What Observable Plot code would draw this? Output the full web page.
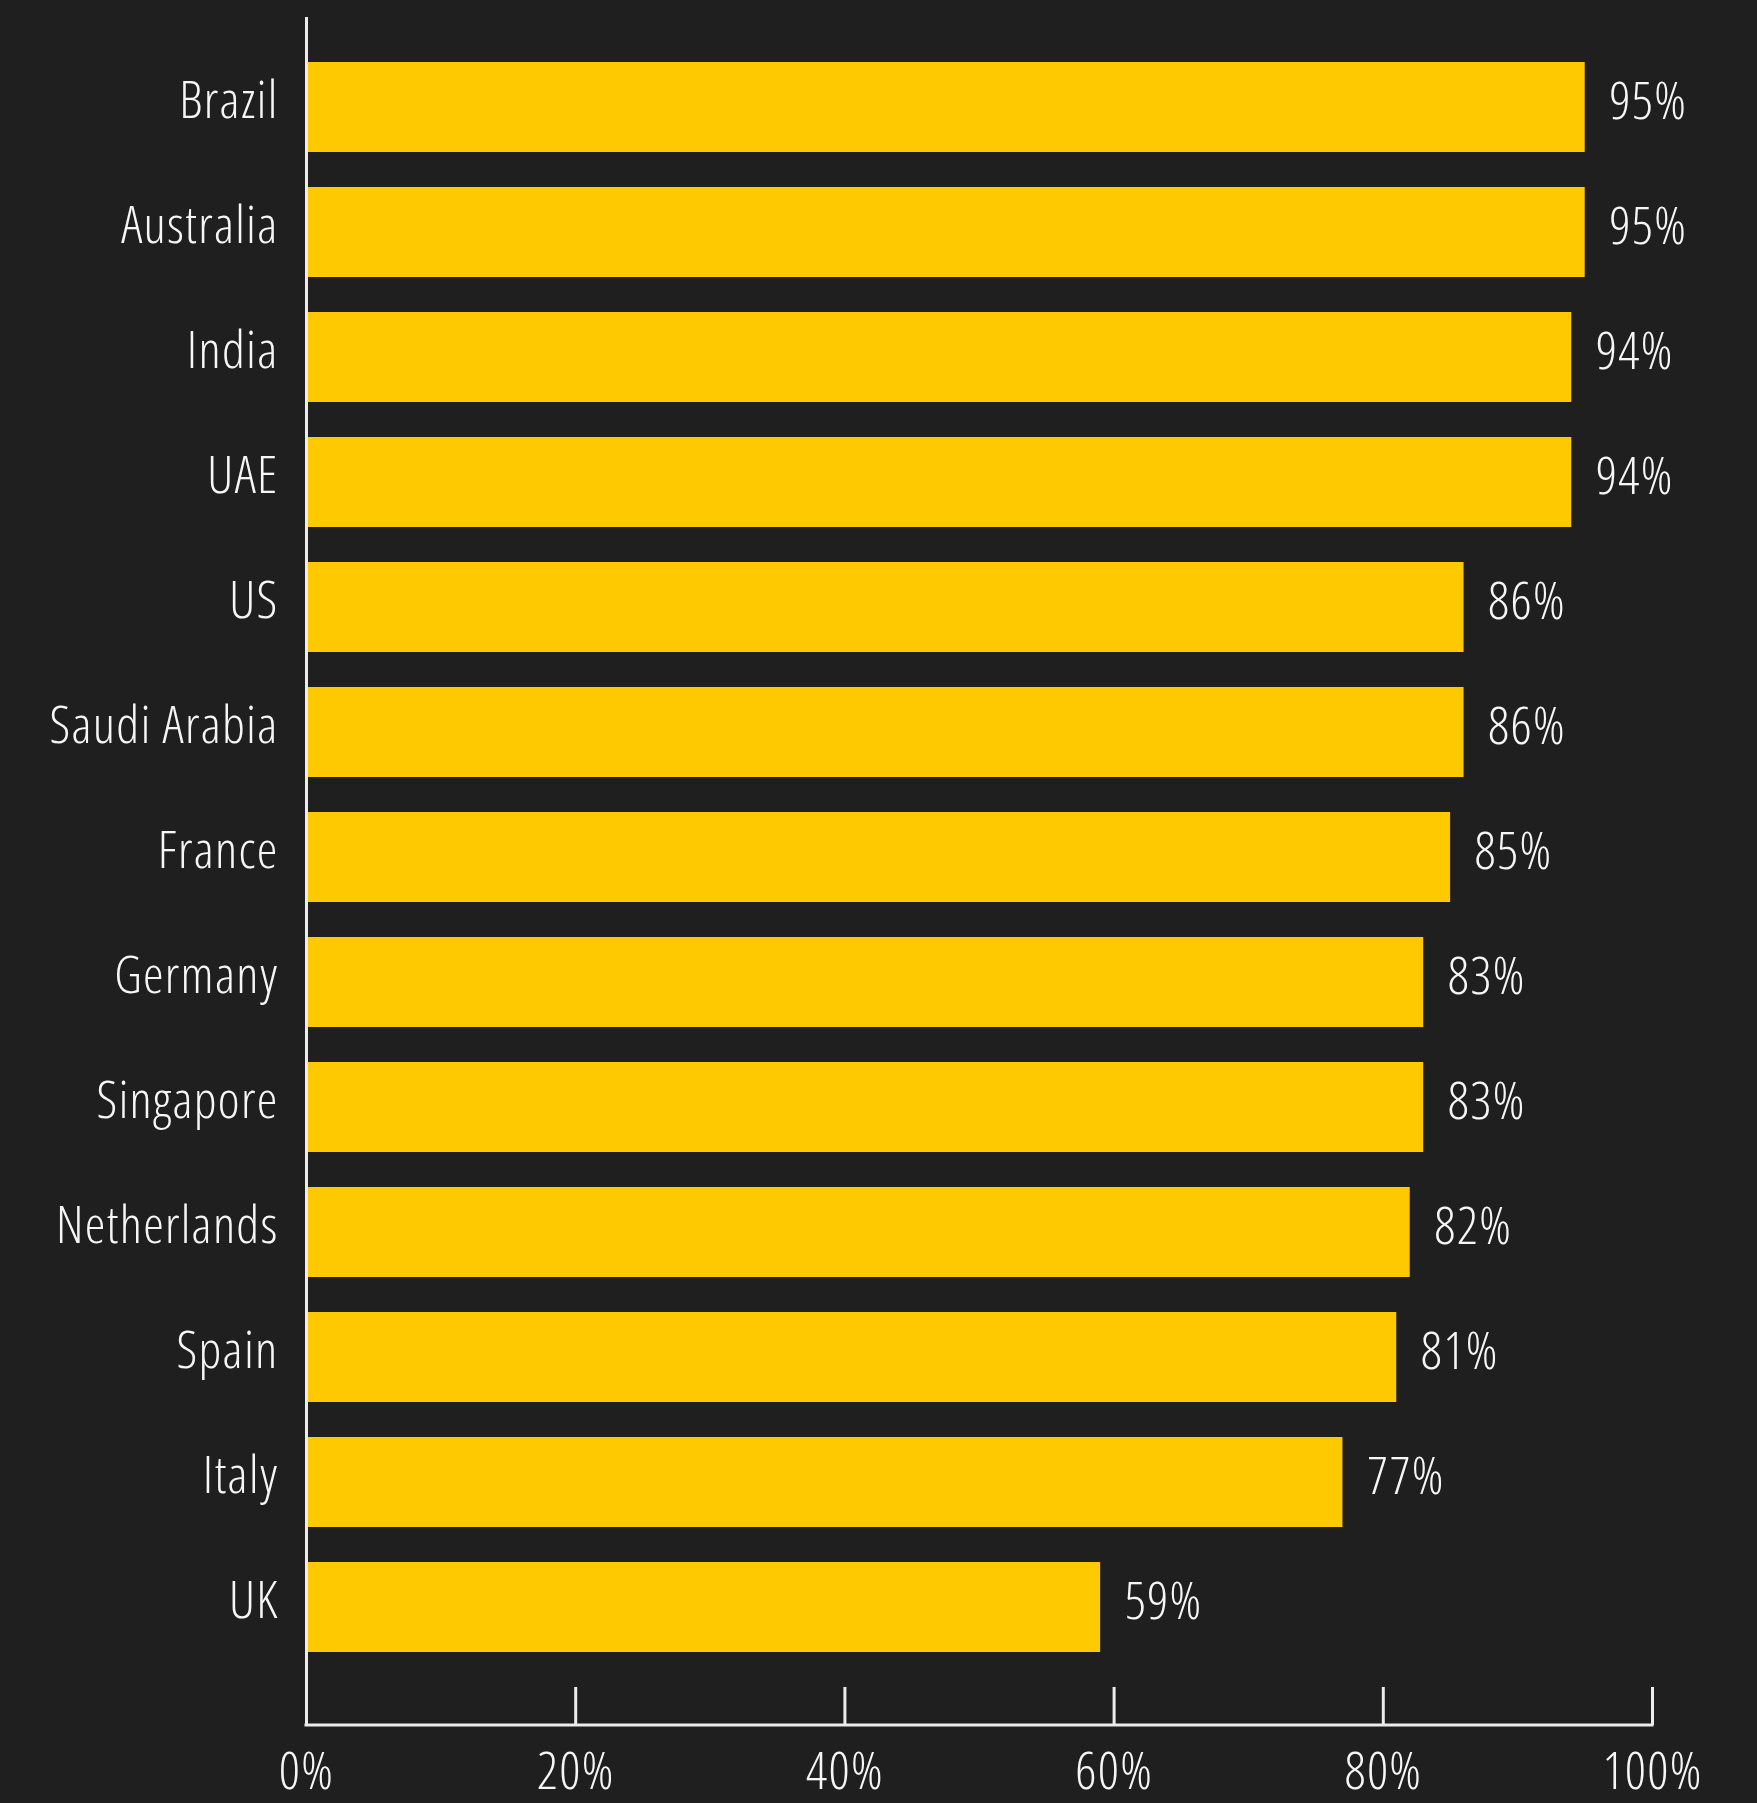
<!DOCTYPE html>
<html>
<head>
<meta charset="utf-8">
<script src="https://cdn.jsdelivr.net/npm/d3@7"></script>
<script src="https://cdn.jsdelivr.net/npm/@observablehq/plot@0.6"></script>
<style>
  html, body { margin: 0; padding: 0; background: #1f1f1f; }
  #chart { width: 1757px; height: 1803px; }
  #chart svg text { font-stretch: 75%; font-weight: 300; letter-spacing: 1.3px; }
</style>
</head>
<body>
<div id="chart"></div>
<script>
const countries = ["Brazil", "Australia", "India", "UAE", "US", "Saudi Arabia", "France", "Germany", "Singapore", "Netherlands", "Spain", "Italy", "UK"];
const values = [95, 95, 94, 94, 86, 86, 85, 83, 83, 82, 81, 77, 59];
const xTicks = [0, 20, 40, 60, 80, 100];

const data = countries.map((c, i) => ({country: c, value: values[i]}));

const axisColor = "#ececec";
const textColor = "#f6f6f6";
const barColor = "#FFC900";

const bottomLine = (index, scales, vals, dims) => {
  const y = dims.height - dims.marginBottom;
  return d3.create("svg:line")
    .attr("x1", scales.x(0) - 1.5)
    .attr("x2", scales.x(100) + 1.5)
    .attr("y1", y)
    .attr("y2", y)
    .attr("stroke", axisColor)
    .attr("stroke-width", 3)
    .node();
};

const chart = Plot.plot({
  width: 1757,
  height: 1803,
  marginTop: 17,
  marginBottom: 78,
  marginLeft: 306,
  marginRight: 105,
  style: {
    background: "#1f1f1f",
    color: textColor,
    fontFamily: "'Open Sans', 'DejaVu Sans Condensed', sans-serif",
    fontSize: "52px"
  },
  x: {domain: [0, 100], ticks: xTicks, tickFormat: d => d + "%"},
  y: {domain: countries, range: [44.5, 1669.5], paddingInner: 0.28, paddingOuter: 0.14},
  marks: [
    Plot.barX(data, {x: "value", y: "country", fill: barColor}),
    Plot.text(data, {x: "value", y: "country", text: d => d.value + "%", textAnchor: "start", dx: 24, dy: -5, fill: textColor, fontSize: 52}),
    Plot.ruleX([0], {stroke: axisColor, strokeWidth: 3}),
    Plot.ruleX(xTicks, {stroke: axisColor, strokeWidth: 3, insetTop: 1670}),
    bottomLine,
    Plot.axisX({ticks: xTicks, tickFormat: d => d + "%", tickSize: 0, tickPadding: 27, fontSize: 52, label: null}),
    Plot.axisY({tickSize: 0, tickPadding: 28, dy: -6, fontSize: 52, label: null})
  ]
});
document.getElementById("chart").appendChild(chart);
</script>
</body>
</html>
